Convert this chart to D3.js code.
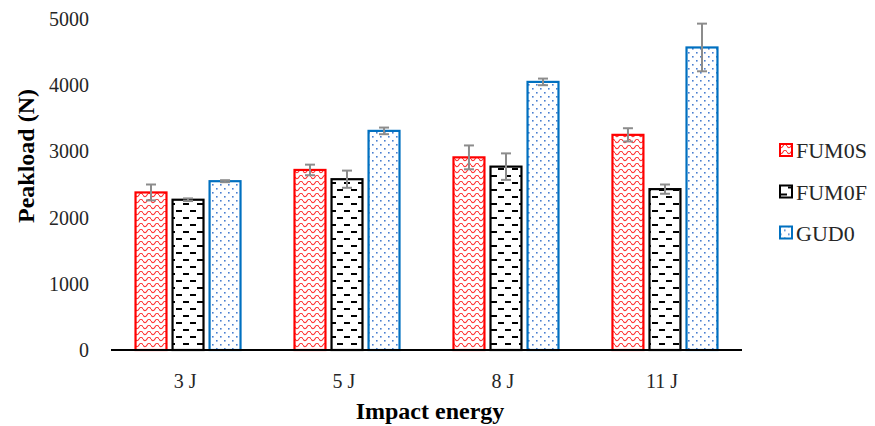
<!DOCTYPE html>
<html>
<head>
<meta charset="utf-8">
<script src="https://cdn.jsdelivr.net/npm/d3@7"></script>
<style>
  body { margin: 0; background: #fff; }
</style>
</head>
<body>
<div id="chart"></div>
<script>
// Data
var categories = ["3 J", "5 J", "8 J", "11 J"];
var seriesNames = ["FUM0S", "FUM0F", "GUD0"];
var fum0s = [2380, 2720, 2910, 3250];
var fum0f = [2270, 2580, 2770, 2430];
var gud0 = [2550, 3310, 4050, 4570];
var fum0sErr = [120, 80, 180, 100];
var fum0fErr = [20, 130, 200, 70];
var gud0Err = [15, 50, 50, 360];
var yTicks = [0, 1000, 2000, 3000, 4000, 5000];

var values = [fum0s, fum0f, gud0];
var errors = [fum0sErr, fum0fErr, gud0Err];
var colors = ["#ff0000", "#000000", "#0070c0"];
var serif = "'Liberation Serif', 'Times New Roman', serif";

var W = 875, H = 426;
var margin = {top: 19, right: 133, bottom: 76, left: 111},
    width = W - margin.left - margin.right,
    height = H - margin.top - margin.bottom;

var svg = d3.select("#chart")
  .append("svg")
    .attr("width", W)
    .attr("height", H)
    .attr("font-family", serif);

// fill patterns
var defs = svg.append("defs");
var pWave = defs.append("pattern").attr("id", "pat0")
    .attr("patternUnits", "userSpaceOnUse").attr("width", 8).attr("height", 6);
pWave.append("path")
    .attr("d", "M0,2 Q2,5.5 4,2 Q6,-1.5 8,2")
    .attr("fill", "none").attr("stroke", "#ff3030").attr("stroke-width", 1.1);

var pDash = defs.append("pattern").attr("id", "pat1")
    .attr("patternUnits", "userSpaceOnUse").attr("width", 14).attr("height", 14);
pDash.append("line").attr("x1", 2).attr("x2", 8).attr("y1", 3).attr("y2", 3)
    .attr("stroke", "#000").attr("stroke-width", 2);
pDash.append("line").attr("x1", 9).attr("x2", 15).attr("y1", 10).attr("y2", 10)
    .attr("stroke", "#000").attr("stroke-width", 2);
pDash.append("line").attr("x1", -5).attr("x2", 1).attr("y1", 10).attr("y2", 10)
    .attr("stroke", "#000").attr("stroke-width", 2);

var pDot = defs.append("pattern").attr("id", "pat2")
    .attr("patternUnits", "userSpaceOnUse").attr("width", 8).attr("height", 8);
pDot.append("rect").attr("x", 1).attr("y", 1).attr("width", 1.6).attr("height", 1.6).attr("fill", "#4a7fd0");
pDot.append("rect").attr("x", 5).attr("y", 5).attr("width", 1.6).attr("height", 1.6).attr("fill", "#4a7fd0");

var g = svg.append("g")
    .attr("transform", "translate(" + margin.left + "," + margin.top + ")");

var x0 = d3.scaleBand().domain(categories).range([0, width]).paddingInner(0.327).paddingOuter(0.148);
var x1 = d3.scaleBand().domain(seriesNames).range([0, x0.bandwidth()]).paddingInner(0.11);
var y = d3.scaleLinear().domain([0, 5000]).range([height, 0]);

// y tick labels
g.selectAll(".ytick")
  .data(yTicks)
  .enter().append("text")
    .attr("x", -22)
    .attr("y", function (d) { return y(d); })
    .attr("dy", "0.35em")
    .attr("text-anchor", "end")
    .style("font-size", "20px")
    .attr("fill", "#262626")
    .text(function (d) { return d; });

// bars
seriesNames.forEach(function (s, i) {
  var data = categories.map(function (c, j) {
    return {cat: c, v: values[i][j], e: errors[i][j]};
  });
  var sg = g.append("g");
  sg.selectAll("rect")
    .data(data)
    .enter().append("rect")
      .attr("x", function (d) { return x0(d.cat) + x1(s) + 1; })
      .attr("y", function (d) { return y(d.v); })
      .attr("width", x1.bandwidth() - 2)
      .attr("height", function (d) { return height - y(d.v); })
      .attr("fill", "url(#pat" + i + ")")
      .attr("stroke", colors[i])
      .attr("stroke-width", 2.2);

  // error bars
  var eb = sg.selectAll(".err").data(data).enter().append("g")
    .attr("transform", function (d) { return "translate(" + (x0(d.cat) + x1(s) + x1.bandwidth() / 2) + ",0)"; });
  eb.append("line")
    .attr("y1", function (d) { return y(d.v + d.e); })
    .attr("y2", function (d) { return y(d.v - d.e); })
    .attr("stroke", "#8c8c8c").attr("stroke-width", 2);
  eb.append("line").attr("x1", -5).attr("x2", 5)
    .attr("y1", function (d) { return y(d.v + d.e); })
    .attr("y2", function (d) { return y(d.v + d.e); })
    .attr("stroke", "#8c8c8c").attr("stroke-width", 2);
  eb.append("line").attr("x1", -5).attr("x2", 5)
    .attr("y1", function (d) { return y(d.v - d.e); })
    .attr("y2", function (d) { return y(d.v - d.e); })
    .attr("stroke", "#8c8c8c").attr("stroke-width", 2);
});

// x axis line
g.append("line")
  .attr("x1", 0).attr("x2", width)
  .attr("y1", height).attr("y2", height)
  .attr("stroke", "#000").attr("stroke-width", 2);

g.selectAll(".xlab")
  .data(categories)
  .enter().append("text")
    .attr("x", function (d) { return x0(d) + x0.bandwidth() / 2 - 3; })
    .attr("y", height + 38)
    .attr("text-anchor", "middle")
    .style("font-size", "20px")
    .attr("fill", "#262626")
    .text(function (d) { return d; });

// axis titles
svg.append("text")
  .attr("x", 430)
  .attr("y", 419)
  .attr("text-anchor", "middle")
  .style("font-size", "24px")
  .style("font-weight", "bold")
  .text("Impact energy");

svg.append("text")
  .attr("transform", "translate(34,156) rotate(-90)")
  .attr("text-anchor", "middle")
  .style("font-size", "24px")
  .style("font-weight", "bold")
  .text("Peakload (N)");

// legend
var leg = svg.append("g").attr("transform", "translate(779,150)");
seriesNames.forEach(function (s, i) {
  var row = leg.append("g").attr("transform", "translate(0," + [0, 41.5, 82.5][i] + ")");
  row.append("rect")
    .attr("x", 1).attr("y", -6).attr("width", 12).attr("height", 12)
    .attr("fill", "url(#pat" + i + ")")
    .attr("stroke", colors[i]).attr("stroke-width", 2);
  row.append("text")
    .attr("x", 17).attr("y", 8)
    .style("font-size", "22px")
    .attr("fill", "#262626")
    .text(s);
});
</script>
</body>
</html>
